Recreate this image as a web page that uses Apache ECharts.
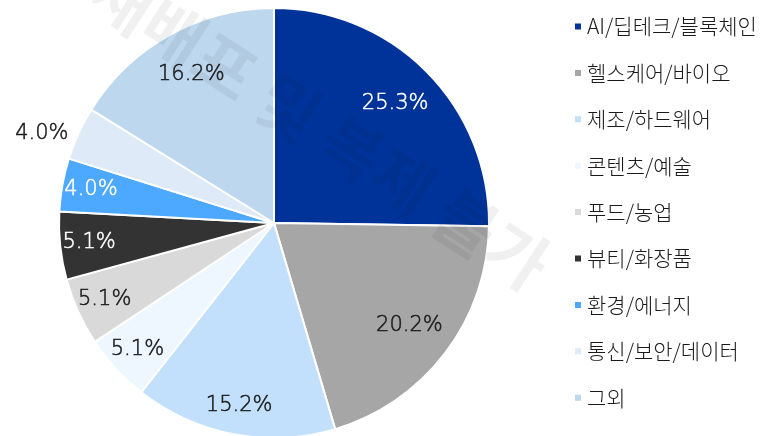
<!DOCTYPE html>
<html>
<head>
<meta charset="utf-8">
<script src="https://cdn.jsdelivr.net/npm/echarts@6/dist/echarts.min.js"></script>
<style>
  html, body { margin: 0; padding: 0; background: #fff; }
  #chart { width: 783px; height: 436px; }
</style>
</head>
<body>
<div id="chart"></div>
<script>
// 분야별 비중 (%)
const categories = ['AI/딥테크/블록체인', '헬스케어/바이오', '제조/하드웨어', '콘텐츠/예술', '푸드/농업', '뷰티/화장품', '환경/에너지', '통신/보안/데이터', '그외'];
const shares = [25.3, 20.2, 15.2, 5.1, 5.1, 5.1, 4.0, 4.0, 16.2];

const colors = ['#003399', '#a6a6a6', '#c2e0fc', '#eef6ff', '#d9d9d9', '#333333', '#4da9ff', '#deeaf7', '#bdd7ee'];
const labelColors = ['#fff', '#1a1a1a', '#1a1a1a', '#1a1a1a', '#1a1a1a', '#fff', '#fff', '#1a1a1a', '#1a1a1a'];
// 라벨 그룹: 큰 조각 / 작은 조각 / 바깥
const bigIdx = [0, 1, 8];
const smallIdx = [2, 3, 4, 5, 6];
const outsideIdx = [7];

const FONT = '"Noto Sans CJK KR", "Noto Sans", sans-serif';
const center = [274, 223];
const R = 215;

function pct(v) { return v.toFixed(1) + '%'; }

function makeData(showIdx, withColor) {
  return categories.map((name, i) => ({
    name: name,
    value: shares[i],
    itemStyle: withColor ? { color: colors[i] } : { color: 'rgba(0,0,0,0)', borderWidth: 0 },
    label: {
      show: showIdx.indexOf(i) >= 0,
      color: labelColors[i],
      textBorderColor: labelColors[i],
      textBorderWidth: 0.5
    }
  }));
}

const labelBase = {
  fontFamily: '"DejaVu Sans", sans-serif',
  fontSize: 21,
  fontWeight: 200,
  formatter: p => pct(p.value)
};

const chart = echarts.init(document.getElementById('chart'));
chart.setOption({
  animation: false,
  backgroundColor: '#fff',
  legend: {
    orient: 'vertical',
    left: 573,
    top: 16,
    padding: 0,
    icon: 'rect',
    itemWidth: 8,
    itemHeight: 8,
    itemGap: 25.4,
    selectedMode: false,
    data: categories,
    textStyle: { fontFamily: FONT, fontSize: 21, fontWeight: 300, color: '#1a1a1a', lineHeight: 20 }
  },
  series: [
    {
      type: 'pie',
      center: center,
      radius: R,
      startAngle: 90,
      silent: true,
      avoidLabelOverlap: false,
      itemStyle: { borderColor: '#fff', borderWidth: 2 },
      label: Object.assign({ position: 'outside', distanceToLabelLine: 5 }, labelBase),
      labelLine: { show: false, length: 0, length2: 5 },
      emphasis: { disabled: true },
      data: makeData(outsideIdx, true)
    },
    {
      type: 'pie',
      center: center,
      radius: [119, R],
      startAngle: 90,
      silent: true,
      label: Object.assign({ position: 'inside' }, labelBase),
      labelLine: { show: false },
      emphasis: { disabled: true },
      data: makeData(bigIdx, false)
    },
    {
      type: 'pie',
      center: center,
      radius: [151, R],
      startAngle: 90,
      silent: true,
      label: Object.assign({ position: 'inside' }, labelBase),
      labelLine: { show: false },
      emphasis: { disabled: true },
      data: makeData(smallIdx, false)
    }
  ],
  graphic: [{
    type: 'text',
    x: 320,
    y: 128,
    rotation: -33 * Math.PI / 180,
    z: 100,
    silent: true,
    style: {
      text: '재배포 및 복제 불가',
      fontFamily: FONT,
      fontWeight: 'bold',
      fontSize: 66,
      fill: 'rgba(0,0,0,0.06)',
      textAlign: 'center',
      textVerticalAlign: 'middle'
    }
  }]
});
</script>
</body>
</html>
